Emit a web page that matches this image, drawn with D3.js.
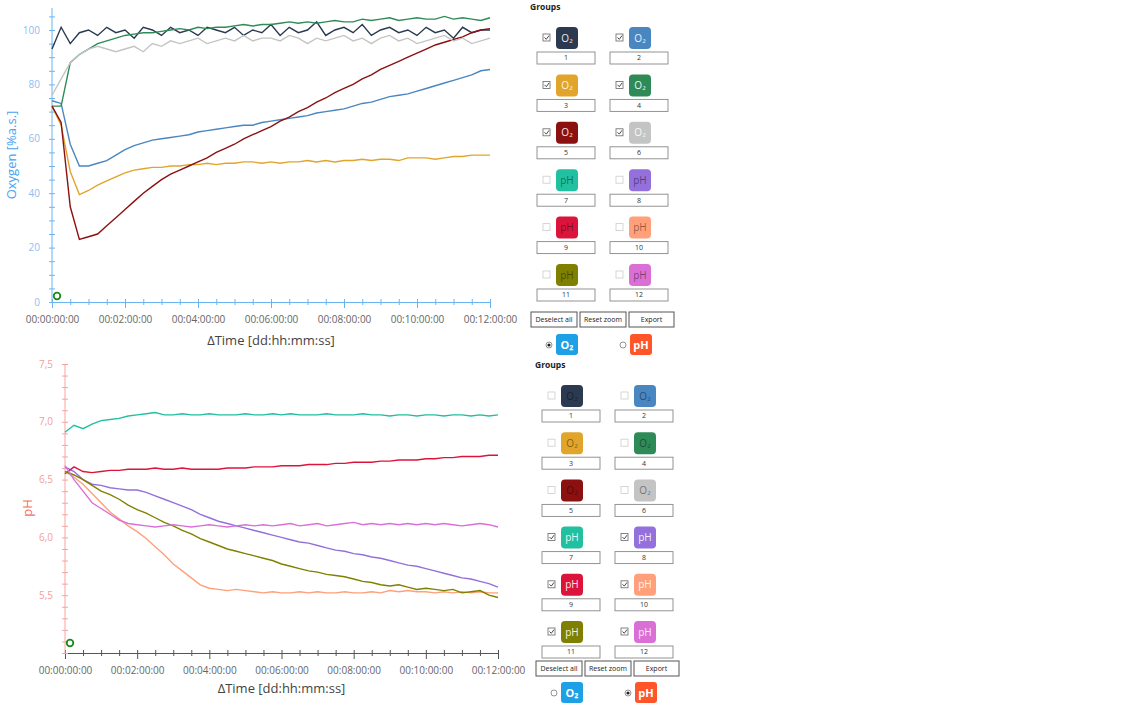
<!DOCTYPE html>
<html><head><meta charset="utf-8">
<script src="https://cdn.jsdelivr.net/npm/d3@7"></script>
<style>body{margin:0;background:#fff;font-family:"Open Sans",sans-serif}</style>
</head><body><svg id="c" width="1130" height="707"></svg>
<script>
// time in hours
var timeHours = [0,0.25,0.5,0.75,1,1.25,1.5,1.75,2,2.25,2.5,2.75,3,3.25,3.5,3.75,4,4.25,4.5,4.75,5,5.25,5.5,5.75,6,6.25,6.5,6.75,7,7.25,7.5,7.75,8,8.25,8.5,8.75,9,9.25,9.5,9.75,10,10.25,10.5,10.75,11,11.25,11.5,11.75,12];
var xTickLabels = ['00:00:00:00','00:02:00:00','00:04:00:00','00:06:00:00','00:08:00:00','00:10:00:00','00:12:00:00'];
var o2Ticks = [0,20,40,60,80,100];
var phTicks = [5.5,6.0,6.5,7.0,7.5];

var o2Colors = ['#2b3a50','#4a86c0','#e0a52a','#2e8b57','#8b1111','#c4c4c4'];
var phColors = ['#20c0a0','#9370db','#dc143c','#ffa07a','#808000','#da70d6'];

var o2_1 = [93,101,95,99,100,98,101,99,100,97,101,100,98,101,99,100,98,101,100,99,101,98,100,99,102,98,101,99,100,103,98,100,101,99,102,98,100,101,99,100,98,101,99,100,97,101,99,100,100];
var o2_2 = [74,73,58,50,50,51,52,54,56,57.5,58.5,59.5,60,60.5,61,61.5,62.5,63,63.5,64,64.5,65,65,66,66.5,67,67.5,68,68.5,69.5,70,70.5,71,72,73,73.5,74.5,75.5,76,76.5,77.5,78.5,79.5,80.5,81.5,82.5,83.5,85,85.5];
var o2_3 = [72,65,48,39.5,41,43,44.5,46,47.5,48.5,49,49.5,49.5,50,50,50.5,50.5,51,50.5,51,51,51.5,51.5,51,51.5,51,51.5,51.5,52,51.5,52,51.5,52,52,52.5,52,52.5,52.5,52,53,53,53,52.5,53,53.5,53.5,54,54,54];
var o2_4 = [72,72,88,91,93,95,96,97,98,98.5,99,99,99.5,100,100.5,100,101,100.5,101,101,101.5,102,101.5,102,102,102.5,103,102.5,103,102.5,103,103.5,103,103,104,103.5,104,104.5,103.5,104,104.5,104,104,105,104,104.5,104,103.5,104.5];
var o2_5 = [72,66,35,23,24,25,28,31,34,37,40,42.5,45,47,48.5,50,51.5,53,55,56.5,58,60,61.5,63,64.5,66.5,68,70,71.5,73.5,75,77,78.5,80,82,83.5,85.5,87,88.5,90,91.5,93,94.5,95.5,96.5,97.5,99,100,100.5];
var o2_6 = [76,82,88,91,93,94,93,92,93,94,92,95,94,96,95,96,97,95,96,97,96,98,96,97,97,96,98,97,95,97,96,97,98,96,97,95,97,98,96,97,95,96,97,98,96,97,95,96,97];

var ph_7 = [6.91,6.97,6.94,6.98,7.01,7.02,7.03,7.05,7.06,7.07,7.08,7.06,7.06,7.07,7.06,7.06,7.07,7.06,7.06,7.06,7.07,7.06,7.06,7.07,7.06,7.07,7.06,7.06,7.06,7.07,7.06,7.06,7.06,7.07,7.06,7.06,7.05,7.06,7.06,7.05,7.06,7.06,7.05,7.06,7.06,7.05,7.06,7.05,7.06];
var ph_8 = [6.61,6.57,6.50,6.46,6.45,6.43,6.42,6.41,6.41,6.39,6.36,6.33,6.30,6.27,6.24,6.20,6.17,6.14,6.12,6.10,6.08,6.06,6.04,6.02,6.00,5.98,5.96,5.95,5.93,5.91,5.89,5.88,5.86,5.85,5.83,5.82,5.80,5.78,5.76,5.75,5.73,5.71,5.69,5.67,5.65,5.64,5.62,5.60,5.57];
var ph_9 = [6.55,6.61,6.57,6.56,6.57,6.58,6.58,6.59,6.59,6.59,6.60,6.59,6.59,6.60,6.59,6.59,6.59,6.59,6.60,6.60,6.60,6.61,6.61,6.61,6.62,6.62,6.62,6.63,6.63,6.63,6.64,6.64,6.65,6.65,6.65,6.66,6.66,6.67,6.67,6.67,6.68,6.68,6.69,6.69,6.70,6.70,6.70,6.71,6.71];
var ph_10 = [6.57,6.52,6.46,6.38,6.30,6.22,6.16,6.10,6.05,5.99,5.92,5.85,5.77,5.71,5.65,5.59,5.56,5.55,5.54,5.55,5.54,5.53,5.52,5.53,5.52,5.52,5.53,5.52,5.53,5.52,5.52,5.53,5.52,5.52,5.53,5.52,5.54,5.53,5.54,5.53,5.53,5.52,5.53,5.52,5.53,5.52,5.53,5.52,5.52];
var ph_11 = [6.57,6.54,6.50,6.45,6.40,6.37,6.33,6.28,6.24,6.21,6.17,6.13,6.10,6.06,6.03,5.99,5.96,5.93,5.90,5.88,5.86,5.84,5.82,5.80,5.77,5.75,5.73,5.71,5.70,5.68,5.67,5.66,5.64,5.62,5.61,5.59,5.58,5.59,5.57,5.55,5.56,5.55,5.54,5.55,5.52,5.53,5.54,5.50,5.48];
var ph_12 = [6.62,6.50,6.40,6.30,6.25,6.20,6.15,6.12,6.11,6.10,6.09,6.10,6.11,6.10,6.09,6.10,6.11,6.10,6.09,6.10,6.11,6.10,6.11,6.10,6.11,6.12,6.10,6.11,6.12,6.10,6.11,6.12,6.13,6.11,6.12,6.11,6.12,6.11,6.12,6.11,6.12,6.11,6.12,6.11,6.10,6.11,6.12,6.11,6.09];

var svg = d3.select('#c');

function drawChart(o) {
  var x = d3.scaleLinear().domain([0, 12]).range([o.x0, o.x1]);
  var y = d3.scaleLinear().domain(o.domain).range([o.yBottom, o.yTop]);
  var g = svg.append('g');

  // x axis
  var gx = g.append('g').attr('transform', 'translate(0,' + o.yBottom + ')')
    .call(d3.axisBottom(x).tickValues(d3.range(0, 12.01, 0.5)).tickSizeInner(5).tickSizeOuter(0)
      .tickFormat(function (d) { return d % 2 === 0 ? xTickLabels[d / 2] : ''; }));
  gx.selectAll('line,path').attr('stroke', o.xAxisColor);
  gx.selectAll('.tick line').attr('y1', -3).attr('y2', function (d) { return d % 2 === 0 ? 6 : 3; });
  gx.selectAll('text').attr('fill', '#666').style('font-size', '10px').attr('dy', '1.3em')
    .style('font-family', 'Open Sans');

  // y axis
  var gy = g.append('g').attr('transform', 'translate(' + o.x0 + ',0)')
    .call(d3.axisLeft(y).tickValues(o.minorTicks).tickSizeInner(3).tickSizeOuter(0).tickFormat(''));
  gy.selectAll('line,path').attr('stroke', o.yColor);
  gy.select('.domain').attr('d', 'M0,' + (o.yBottom) + 'V' + (o.yAxisTop));
  gy.selectAll('.tick line').attr('x1', 3).attr('x2', -3);
  g.selectAll('.ylab').data(o.ticks).enter().append('text')
    .attr('x', o.x0 - 12).attr('y', function (d) { return y(d); }).attr('dy', '0.35em')
    .attr('text-anchor', 'end').attr('fill', o.yLabelColor).style('font-size', '10px')
    .text(o.fmt);

  // lines
  var line = d3.line().x(function (d, i) { return x(timeHours[i]); }).y(function (d) { return y(d); });
  o.series.forEach(function (s, i) {
    g.append('path').attr('d', line(s)).attr('fill', 'none')
      .attr('stroke', o.colors[i]).attr('stroke-width', 1.4);
  });

  // marker
  g.append('circle').attr('cx', o.markX).attr('cy', o.markY).attr('r', 3.3)
    .attr('fill', 'none').attr('stroke', '#1a8a1a').attr('stroke-width', 1.8);

  g.append('text').attr('x', (o.x0 + o.x1) / 2).attr('y', o.xTitleY).attr('text-anchor', 'middle')
    .attr('fill', '#444').style('font-size', '13px').text('\u0394Time [dd:hh:mm:ss]');
  g.append('text').attr('transform', 'translate(' + o.yTitleX + ',' + o.yTitleY + ') rotate(-90)')
    .attr('text-anchor', 'middle').attr('fill', o.yTitleColor).style('font-size', '13px').text(o.yTitle);
}

drawChart({
  x0: 52, x1: 490, yBottom: 302, yTop: 30, yAxisTop: 8, domain: [0, 100],
  minorTicks: d3.range(0, 106, 5), ticks: o2Ticks, fmt: function (d) { return d; },
  xAxisColor: '#6ab4f2', yColor: '#6ab4f2', yLabelColor: '#8cc0f2',
  series: [o2_1, o2_2, o2_3, o2_4, o2_5, o2_6], colors: o2Colors,
  markX: 57, markY: 296, xTitleY: 345, yTitle: 'Oxygen [%a.s.]', yTitleX: 16, yTitleY: 155, yTitleColor: '#4aa3f0'
});
drawChart({
  x0: 65, x1: 498, yBottom: 653, yTop: 364, yAxisTop: 364, domain: [5.0, 7.5],
  minorTicks: d3.range(5.0, 7.51, 0.1), ticks: phTicks, fmt: function (d) { return d.toFixed(1).replace('.', ','); },
  xAxisColor: '#555', yColor: '#f4a4a0', yLabelColor: '#f4a09a',
  series: [ph_7, ph_8, ph_9, ph_10, ph_11, ph_12], colors: phColors,
  markX: 70, markY: 643, xTitleY: 693, yTitle: 'pH', yTitleX: 32, yTitleY: 508, yTitleColor: '#f07060'
});

// side panels
function panel(px, py, checkedO2, selO2, rowStep, btnY, radioY) {
  var g = svg.append('g').attr('transform', 'translate(' + px + ',' + py + ')');
  g.append('text').attr('x', 0).attr('y', 0).style('font-size', '8.5px').style('font-weight', 'bold')
    .attr('fill', '#222').text('Groups');
  var items = o2Colors.map(function (c, i) { return { c: c, n: i + 1, lab: 'O\u2082', on: checkedO2 }; })
    .concat(phColors.map(function (c, i) { return { c: c, n: i + 7, lab: 'pH', on: !checkedO2 }; }));
  items.forEach(function (d, i) {
    var col = i % 2, row = Math.floor(i / 2);
    var gx = col * 73, gy = 17 + row * rowStep;
    var it = g.append('g').attr('transform', 'translate(' + gx + ',' + gy + ')');
    it.append('rect').attr('x', 13).attr('y', 7).attr('width', 7).attr('height', 7)
      .attr('fill', '#fff').attr('stroke', d.on ? '#666' : '#ccc').attr('stroke-width', 0.8);
    if (d.on) it.append('path').attr('d', 'M14.5,10.5 L16.3,12.3 L19,8.6').attr('fill', 'none')
      .attr('stroke', '#333').attr('stroke-width', 0.9);
    it.append('rect').attr('x', 26).attr('y', 0).attr('width', 22).attr('height', 22).attr('rx', 4)
      .attr('fill', d.c);
    it.append('text').attr('x', 37).attr('y', 11).attr('dy', '0.35em').attr('text-anchor', 'middle')
      .style('font-size', '10px').attr('fill', d.on ? 'rgba(255,255,255,0.92)' : 'rgba(0,0,0,0.45)').text(d.lab);
    it.append('rect').attr('x', 7).attr('y', 25).attr('width', 58).attr('height', 12)
      .attr('fill', '#fff').attr('stroke', '#888').attr('stroke-width', 0.9);
    it.append('text').attr('x', 36).attr('y', 31).attr('dy', '0.35em').attr('text-anchor', 'middle')
      .style('font-size', '7px').attr('fill', '#333').text(d.n);
  });
  var btns = [['Deselect all', 1, 46], ['Reset zoom', 50, 46], ['Export', 99, 45]];
  btns.forEach(function (b) {
    g.append('rect').attr('x', b[1]).attr('y', btnY).attr('width', b[2]).attr('height', 15)
      .attr('fill', '#fff').attr('stroke', '#555').attr('stroke-width', 1);
    g.append('text').attr('x', b[1] + b[2] / 2).attr('y', btnY + 7.5).attr('dy', '0.35em').attr('text-anchor', 'middle')
      .style('font-size', '7px').attr('fill', '#222').text(b[0]);
  });
  [['O\u2082', '#1ea0e6', 19, selO2], ['pH', '#ff5528', 93, !selO2]].forEach(function (r) {
    g.append('circle').attr('cx', r[2]).attr('cy', radioY).attr('r', 3).attr('fill', '#fff')
      .attr('stroke', '#666').attr('stroke-width', 0.7);
    if (r[3]) g.append('circle').attr('cx', r[2]).attr('cy', radioY).attr('r', 1.6).attr('fill', '#222');
    g.append('rect').attr('x', r[2] + 7).attr('y', radioY - 11).attr('width', 22).attr('height', 21).attr('rx', 3)
      .attr('fill', r[1]);
    g.append('text').attr('x', r[2] + 18).attr('y', radioY).attr('dy', '0.35em').attr('text-anchor', 'middle')
      .style('font-size', '11px').style('font-weight', 'bold').attr('fill', '#fff').text(r[0]);
  });
}
panel(530, 10, true, true, 47.4, 302, 335);
panel(535, 368, false, false, 47.2, 293, 325);
</script></body></html>
